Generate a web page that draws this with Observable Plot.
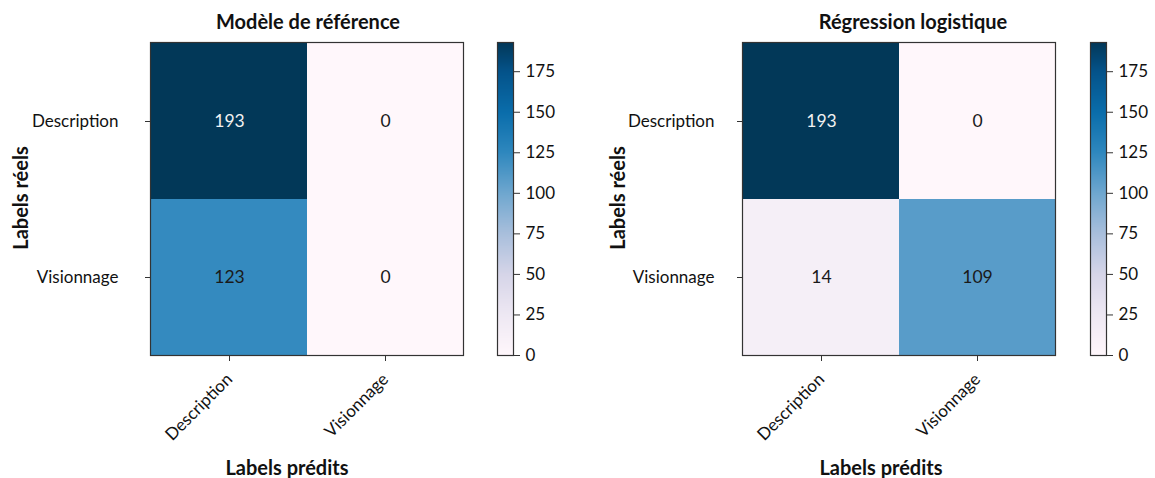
<!DOCTYPE html>
<html>
<head>
<meta charset="utf-8">
<script src="https://cdn.jsdelivr.net/npm/d3@7"></script>
<script src="https://cdn.jsdelivr.net/npm/@observablehq/plot@0.6"></script>
<style>
  html, body { margin: 0; padding: 0; background: #fff; }
  #root { position: relative; width: 1155px; height: 478px; font-family: Lato, "Open Sans", sans-serif; color: #111; }
  .abs { position: absolute; }
  .lbl { position: absolute; white-space: nowrap; transform: translate(-50%, -50%); font-weight: bold; }
</style>
</head>
<body>
<div id="root"></div>
<script>
// ---- data ----
const categories = ["Description", "Visionnage"];
const panelTitles = ["Modèle de référence", "Régression logistique"];
const xAxisTitle = "Labels prédits";
const yAxisTitle = "Labels réels";
// rows = actual label, columns = predicted label
const baselineMatrix = [[193, 0], [123, 0]];
const logregMatrix = [[193, 0], [14, 109]];
const colorbarTicks = [0, 25, 50, 75, 100, 125, 150, 175];
const colorMax = 193;

const FONT = "Lato, 'Open Sans', sans-serif";
const colorScale = {
  type: "linear",
  domain: [0, 25, 50, 75, 100, 125, 150, 175, 193],
  range: ["#fff7fb", "#eee8f3", "#d6d5e8", "#a9bfdc", "#6fa7cf", "#2f88be", "#0a6dab", "#04538a", "#023858"],
  clamp: true
};

function toRows(matrix) {
  const rows = [];
  matrix.forEach((r, i) => r.forEach((v, j) => rows.push({actual: categories[i], predicted: categories[j], value: v})));
  return rows;
}

const root = document.getElementById("root");

function heatmap(matrix, yPad) {
  const data = toRows(matrix);
  const thresh = colorMax * 0.75;
  return Plot.plot({
    width: 480, height: 478,
    marginLeft: 150, marginRight: 17, marginTop: 42, marginBottom: 123,
    x: {domain: categories, padding: 0, label: null},
    y: {domain: categories, padding: 0, label: null},
    color: colorScale,
    style: {fontFamily: FONT, fontSize: "17px", color: "#111", background: "transparent", overflow: "visible"},
    marks: [
      Plot.cell(data, {x: "predicted", y: "actual", fill: "value"}),
      Plot.text(data, {x: "predicted", y: "actual", text: d => String(d.value), filter: d => d.value > thresh, fill: "#f2f2f2", fontSize: 17.5}),
      Plot.text(data, {x: "predicted", y: "actual", text: d => String(d.value), filter: d => d.value <= thresh, fill: "#1a1a1a", fontSize: 17.5}),
      Plot.frame({stroke: "#333", strokeWidth: 1.2}),
      Plot.axisX({tickRotate: -45, tickSize: 6, tickPadding: 15, dx: 0, label: null, stroke: "#333"}),
      Plot.axisY({tickSize: 5, tickPadding: yPad, label: null, stroke: "#333"})
    ]
  });
}

function colorbar() {
  return Plot.plot({
    width: 80, height: 478,
    marginLeft: 17, marginRight: 47, marginTop: 42, marginBottom: 123,
    x: {domain: [0, 1], axis: null},
    y: {domain: [0, colorMax], label: null},
    color: colorScale,
    style: {fontFamily: FONT, fontSize: "17px", color: "#111", background: "transparent", overflow: "visible"},
    marks: [
      Plot.raster({fill: (x, y) => y, x1: 0, x2: 1, y1: 0, y2: colorMax, width: 1, height: 313}),
      Plot.frame({stroke: "#333", strokeWidth: 1.2}),
      Plot.axisY({anchor: "right", ticks: colorbarTicks, tickSize: 6, tickPadding: 6, label: null, stroke: "#333"})
    ]
  });
}

function place(el, left, top) {
  el.classList.add("abs");
  el.style.left = left + "px";
  el.style.top = top + "px";
  root.appendChild(el);
}

function label(text, cx, cy, size, rotate) {
  const d = document.createElement("div");
  d.className = "lbl";
  d.textContent = text;
  d.style.left = cx + "px";
  d.style.top = cy + "px";
  d.style.fontSize = size + "px";
  if (rotate) d.style.transform = "translate(-50%, -50%) rotate(-90deg)";
  root.appendChild(d);
}

const panels = [
  {matrix: baselineMatrix, left: 0, cbLeft: 480, yPad: 27, titleX: 308, xLabelX: 287, yLabelX: 20},
  {matrix: logregMatrix, left: 592, cbLeft: 1073, yPad: 23, titleX: 913, xLabelX: 881, yLabelX: 617}
];

panels.forEach((p, i) => {
  place(heatmap(p.matrix, p.yPad), p.left, 0);
  place(colorbar(), p.cbLeft, 0);
  label(panelTitles[i], p.titleX, 21, 20);
  label(xAxisTitle, p.xLabelX, 467, 20);
  label(yAxisTitle, p.yLabelX, 198, 20, true);
});
</script>
</body>
</html>
